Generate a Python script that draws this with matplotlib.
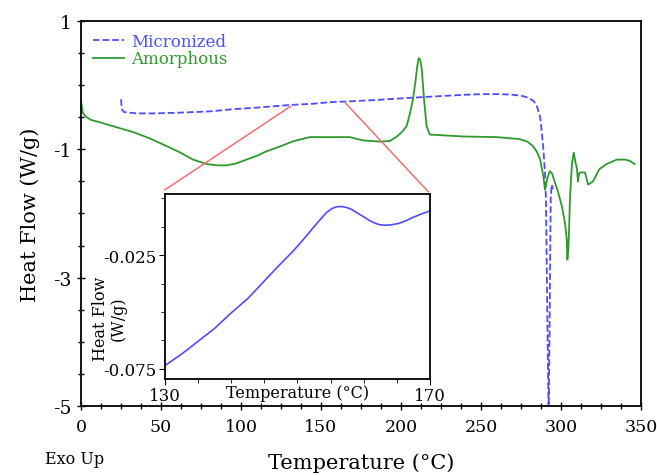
import numpy as np
import matplotlib.pyplot as plt

plt.rcParams['font.family'] = ['DejaVu Serif']
plt.rcParams['axes.unicode_minus'] = False

# Micronized sample (blue dashed)
micro_t = [25, 25.5, 27, 35, 45, 60, 80, 95, 110, 130, 145, 155.6, 170, 185, 204, 225, 240,
           251, 262, 270, 276, 280, 283, 285, 287, 288, 289, 290, 290.6, 291.2, 291.8,
           292.3, 292.8, 293.2, 293.6, 294.2, 295]
micro_hf = [-0.22, -0.38, -0.42, -0.44, -0.44, -0.43, -0.41, -0.375, -0.35, -0.31, -0.29, -0.265,
            -0.25, -0.23, -0.2, -0.17, -0.15, -0.14, -0.14, -0.15, -0.17, -0.2, -0.25, -0.33,
            -0.5, -0.73, -1.0, -1.36, -1.78, -3.0, -4.3, -5.1, -4.0, -2.8, -1.75, -1.55, -1.62]

# Amorphous sample (green solid)
amor_t = [0, 1, 2.5, 6, 12, 20, 32.5, 43, 53.5, 62, 70, 78.5, 85, 91, 97, 103.5, 110, 116,
          125, 132.5, 143, 155.6, 168, 176, 187, 193, 197.5, 201, 203.5, 205.5, 207.5, 209,
          210.2, 211, 212, 213, 214.4, 216, 218, 225, 239, 260, 274, 279, 282.5, 285, 287,
          289, 290, 291.5, 293, 294.5, 296, 298, 300.6, 302.5, 303.6, 304, 304.6, 305,
          305.6, 306.3, 307, 308, 309, 310, 310.6, 311.3, 312, 315, 317, 320, 324, 328.4,
          335, 340, 343, 346]
amor_hf = [-0.25, -0.42, -0.48, -0.54, -0.58, -0.64, -0.73, -0.83, -0.95, -1.05, -1.16, -1.23,
           -1.25, -1.25, -1.22, -1.16, -1.1, -1.03, -0.95, -0.875, -0.81, -0.81, -0.81, -0.86,
           -0.88, -0.87, -0.8, -0.72, -0.64, -0.45, -0.22, 0.05, 0.3, 0.42, 0.4, 0.25, -0.22,
           -0.64, -0.77, -0.78, -0.8, -0.81, -0.84, -0.88, -0.95, -1.04, -1.16, -1.42, -1.63,
           -1.45, -1.34, -1.38, -1.5, -1.65, -1.89, -2.15, -2.4, -2.72, -2.55, -2.3, -1.78,
           -1.45, -1.2, -1.05, -1.2, -1.3, -1.5, -1.38, -1.36, -1.36, -1.55, -1.5, -1.31,
           -1.23, -1.16, -1.16, -1.18, -1.23]

# Zoomed region of the micronized trace, 130-170 °C
inset_t = [130, 132.5, 134.8, 137.5, 139.8, 142.5, 144.8, 147, 149.4, 151, 152.4, 153.5,
           154.4, 155.2, 155.9, 156.7, 157.4, 158.2, 158.9, 160, 160.9, 161.7, 162.4,
           163.2, 163.9, 164.6, 165.4, 166.5, 167.4, 168.7, 170]
inset_hf = [-0.0735, -0.0685, -0.0633, -0.0572, -0.0509, -0.0441, -0.037, -0.0302, -0.0231,
            -0.0178, -0.0129, -0.0092, -0.0063, -0.0046, -0.0038, -0.0037, -0.0041,
            -0.005, -0.0063, -0.0082, -0.0099, -0.011, -0.0117, -0.0119, -0.0118, -0.0115,
            -0.011, -0.0098, -0.0085, -0.007, -0.0056]

# Zoom guide lines (main-axis data coordinates)
guide_left_t = [131, 52.5]
guide_left_hf = [-0.33, -1.63]
guide_right_t = [165, 217]
guide_right_hf = [-0.27, -1.66]

blue = '#4d4dff'
green = '#2e9a2e'
red = '#f07070'

fig = plt.figure(figsize=(6.57, 4.77), dpi=100)
ax = fig.add_axes([0.1233, 0.1468, 0.8523, 0.8071])

ax.plot(micro_t, micro_hf, '--', color=blue, lw=1.3, label='Micronized')
ax.plot(amor_t, amor_hf, '-', color=green, lw=1.3, label='Amorphous')
ax.plot(guide_left_t, guide_left_hf, color=red, lw=1.1)
ax.plot(guide_right_t, guide_right_hf, color=red, lw=1.1)

ax.set_xlim(0, 350)
ax.set_ylim(-5, 1)
ax.set_xticks(np.arange(0, 351, 50))
ax.set_xticks(np.arange(0, 351, 12.5), minor=True)
ax.set_yticks([1, -1, -3, -5])
ax.set_yticks(np.arange(-5, 1.01, 0.5), minor=True)
ax.tick_params(which='both', direction='inout', labelsize=13.5, width=1)
ax.tick_params(which='major', length=6)
ax.tick_params(which='minor', length=4)
ax.tick_params(axis='x', pad=6, labelsize=12.5)
for s in ax.spines.values():
    s.set_linewidth(1.3)
ax.set_xlabel('Temperature (°C)', fontsize=15, labelpad=12)
ax.set_ylabel('Heat Flow (W/g)', fontsize=15, labelpad=10)

leg = ax.legend(loc='upper left', frameon=False, fontsize=12, handlelength=1.9,
                handletextpad=0.4, labelspacing=0.05, borderaxespad=0.3,
                bbox_to_anchor=(0.0, 1.0))
for txt, c in zip(leg.get_texts(), [blue, green]):
    txt.set_color(c)

fig.text(0.068, 0.028, 'Exo Up', fontsize=11.5)

# inset
ins = fig.add_axes([0.2511, 0.2034, 0.4033, 0.3878])
ins.plot(inset_t, inset_hf, '-', color=blue, lw=1.2)
ins.set_xlim(130, 170)
ins.set_ylim(-0.0794, 0.0018)
ins.set_xticks([130, 170])
ins.set_xticks(np.arange(130, 171, 5), minor=True)
ins.set_yticks([-0.025, -0.075])
ins.set_yticklabels(['-0.025', '-0.075'])
ins.set_yticks(np.arange(-0.075, 0.001, 0.0125), minor=True)
ins.tick_params(which='both', direction='out', labelsize=12, pad=2)
ins.tick_params(which='major', length=4)
ins.tick_params(which='minor', length=3)
for s in ins.spines.values():
    s.set_linewidth(1.3)
ins.text(0.5, -0.075, 'Temperature (°C)', transform=ins.transAxes, ha='center',
         va='center', fontsize=11.5)
ins.text(-0.21, 0.33, 'Heat Flow\n(W/g)', transform=ins.transAxes, ha='center',
         va='center', rotation=90, fontsize=11.5, linespacing=1.0)

fig.savefig('out.png', dpi=100)
